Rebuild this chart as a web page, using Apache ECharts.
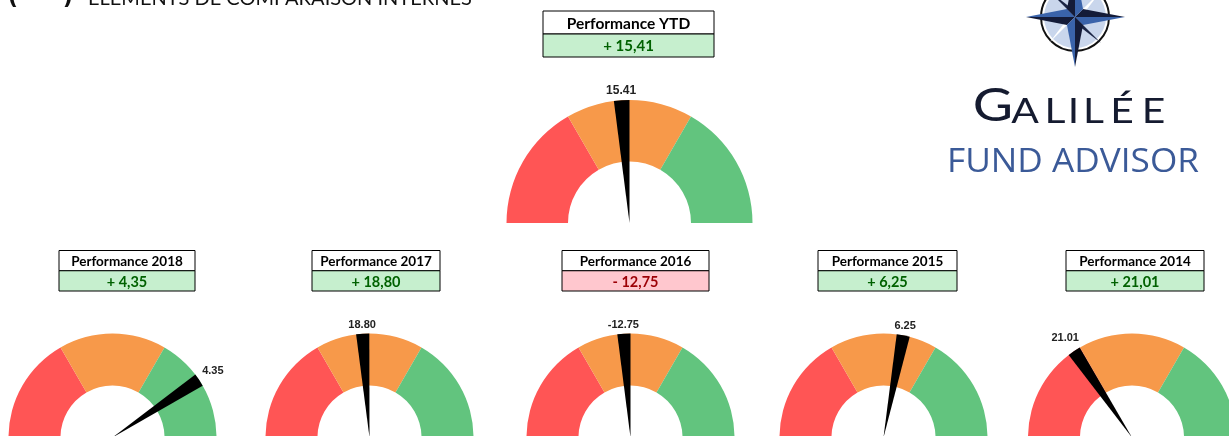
<!DOCTYPE html>
<html>
<head>
<meta charset="utf-8">
<script src="https://cdn.jsdelivr.net/npm/echarts@6/dist/echarts.min.js"></script>
<style>
  body { margin: 0; background: #fff; }
  #chart { width: 1229px; height: 436px; }
</style>
</head>
<body>
<div id="chart"></div>
<script>
// one gauge per period
const gaugeTitles = ['Performance YTD', 'Performance 2018', 'Performance 2017', 'Performance 2016', 'Performance 2015', 'Performance 2014']
const perfValues = [15.41, 4.35, 18.80, -12.75, 6.25, 21.01]
// red / orange / green zones, in dial degrees (half dial = 180)
const zoneValues = [60, 60, 60]
// needle position along the dial, counted from the left end
const needleStart = [82.7, 142.8, 82.6, 82.7, 97.3, 52.5]
const needleWidth = [7.3, 7.3, 7.3, 7.3, 7.3, 7.3]

const zoneColors = ['#FF5555', '#F7994A', '#62C47E']
const clear = 'rgba(0,0,0,0)'

// where each gauge and its little table sit
const layout = [
  {cx: 629.5, cy: 223, r: 123, bx: 543, by: 11, bw: 171, bh: 46, fs: 15.5, vs: 15, ls: 12},
  {cx: 112.5, cy: 437.5, r: 104, bx: 59, by: 250.5, bw: 136, bh: 40.5, fs: 13.5, vs: 14.5, ls: 11},
  {cx: 369.5, cy: 437.5, r: 104, bx: 312, by: 250.5, bw: 128, bh: 40.5, fs: 13.5, vs: 14.5, ls: 11},
  {cx: 630.5, cy: 437.5, r: 104, bx: 562, by: 250.5, bw: 147, bh: 40.5, fs: 13.5, vs: 14.5, ls: 11},
  {cx: 883.5, cy: 437.5, r: 104, bx: 818, by: 250.5, bw: 139, bh: 40.5, fs: 13.5, vs: 14.5, ls: 11},
  {cx: 1132, cy: 437.5, r: 104, bx: 1066, by: 250.5, bw: 138, bh: 40.5, fs: 13.5, vs: 14.5, ls: 11}
]

const fmtBox = v => (v >= 0 ? '+ ' : '- ') + Math.abs(v).toFixed(2).replace('.', ',')

const needleData = i => [
  {value: needleStart[i], itemStyle: {color: clear}},
  {value: needleWidth[i], itemStyle: {color: '#000'}},
  {value: 360 - needleStart[i] - needleWidth[i], itemStyle: {color: clear}}
]

const series = []
gaugeTitles.forEach((t, i) => {
  const g = layout[i]
  const base = {
    type: 'pie',
    center: [g.cx, g.cy],
    startAngle: 180,
    clockwise: true,
    silent: true,
    animation: false,
    label: {show: false},
    labelLine: {show: false},
    emphasis: {disabled: true}
  }
  series.push(Object.assign({}, base, {
    radius: [g.r * 0.5, g.r],
    data: [
      ...zoneValues.map((v, k) => ({value: v, itemStyle: {color: zoneColors[k]}})),
      {value: 180, itemStyle: {color: clear}}
    ]
  }))
  series.push(Object.assign({}, base, {
    radius: [0, g.r],
    data: needleData(i)
  }))
  // invisible thin ring on the rim, only used to carry the value label
  const mid = (180 - needleStart[i] - needleWidth[i] / 2) * Math.PI / 180
  series.push(Object.assign({}, base, {
    radius: [g.r - 2, g.r],
    data: needleData(i).map((d, k) => ({
      value: d.value,
      itemStyle: {color: clear},
      label: {show: k === 1}
    })),
    label: {
      show: false,
      position: 'inside',
      formatter: () => perfValues[i].toFixed(2),
      fontFamily: 'Liberation Sans',
      fontWeight: 'bold',
      fontSize: g.ls,
      color: '#222'
    },
    labelLayout: p => {
      const w = p.labelRect.width, h = p.labelRect.height
      const ext = Math.abs(Math.cos(mid)) * (w / 2 + 3) + Math.abs(Math.sin(mid)) * h / 2
      return {dx: Math.cos(mid) * ext, dy: -Math.sin(mid) * ext}
    }
  }))
})

// small tables above each gauge
const graphics = []
gaugeTitles.forEach((t, i) => {
  const g = layout[i]
  const half = g.bh / 2
  const pos = perfValues[i] >= 0
  graphics.push(
    {type: 'rect', shape: {x: g.bx, y: g.by, width: g.bw, height: half}, style: {fill: '#fff', stroke: '#000', lineWidth: 1}},
    {type: 'rect', shape: {x: g.bx, y: g.by + half, width: g.bw, height: half}, style: {fill: pos ? '#C6EFCE' : '#FFC7CE', stroke: '#000', lineWidth: 1}},
    {type: 'text', style: {text: t, x: g.bx + g.bw / 2, y: g.by + half / 2 + 1, textAlign: 'center', textVerticalAlign: 'middle',
      font: 'bold ' + g.fs + 'px Lato', fill: '#000'}},
    {type: 'text', style: {text: fmtBox(perfValues[i]), x: g.bx + g.bw / 2, y: g.by + half * 1.5 + 1, textAlign: 'center', textVerticalAlign: 'middle',
      font: 'bold ' + g.vs + 'px Lato', fill: pos ? '#006100' : '#9C0006'}}
  )
})

// page heading, cut by the top edge
graphics.push(
  {type: 'text', style: {text: '(  •  )', x: 8, y: 9, textVerticalAlign: 'bottom', font: 'bold 22px "DejaVu Sans"', fill: '#111'}},
  {type: 'text', style: {text: 'ÉLÉMENTS DE COMPARAISON INTERNES', x: 88, y: 9, textVerticalAlign: 'bottom', font: '20px Lato', fill: '#111'}}
)

// logo: compass rose + name
const cx = 1075, cy = 17
graphics.push(
  {type: 'circle', shape: {cx: cx, cy: cy, r: 34}, style: {fill: '#fff', stroke: '#111', lineWidth: 2}},
  {type: 'circle', shape: {cx: cx, cy: cy, r: 31}, style: {fill: '#C9D6EC'}},
  {type: 'polygon', shape: {points: [[cx, cy], [cx + 26, cy - 26], [cx + 6, cy]]}, style: {fill: '#fff'}},
  {type: 'polygon', shape: {points: [[cx, cy], [cx - 26, cy + 26], [cx - 6, cy]]}, style: {fill: '#fff'}},
  {type: 'polygon', shape: {points: [[cx, cy], [cx + 26, cy + 26], [cx, cy + 6]]}, style: {fill: '#1B2545'}},
  {type: 'polygon', shape: {points: [[cx, cy], [cx - 26, cy - 26], [cx, cy - 6]]}, style: {fill: '#1B2545'}},
  {type: 'polygon', shape: {points: [[cx, cy], [cx - 49, cy], [cx - 8, cy - 8]]}, style: {fill: '#3A63AA'}},
  {type: 'polygon', shape: {points: [[cx, cy], [cx - 49, cy], [cx - 8, cy + 8]]}, style: {fill: '#141B38'}},
  {type: 'polygon', shape: {points: [[cx, cy], [cx + 50, cy], [cx + 8, cy + 8]]}, style: {fill: '#3A63AA'}},
  {type: 'polygon', shape: {points: [[cx, cy], [cx + 50, cy], [cx + 8, cy - 8]]}, style: {fill: '#141B38'}},
  {type: 'polygon', shape: {points: [[cx, cy], [cx, cy + 50], [cx - 8, cy + 8]]}, style: {fill: '#3A63AA'}},
  {type: 'polygon', shape: {points: [[cx, cy], [cx, cy + 50], [cx + 8, cy + 8]]}, style: {fill: '#141B38'}},
  {type: 'polygon', shape: {points: [[cx, cy], [cx, cy - 50], [cx + 8, cy - 8]]}, style: {fill: '#3A63AA'}},
  {type: 'polygon', shape: {points: [[cx, cy], [cx, cy - 50], [cx - 8, cy - 8]]}, style: {fill: '#141B38'}}
)
// spaced-out small caps name
const logoLetters = [['G', 993, 46], ['A', 1025, 34], ['L', 1055, 34], ['I', 1073.5, 34], ['L', 1093.5, 34], ['É', 1122, 34], ['E', 1153.5, 34]]
logoLetters.forEach(l => graphics.push({type: 'text', x: l[1], y: 129, scaleX: 1.2, style: {text: l[0], x: 0, y: 0, textAlign: 'center', textVerticalAlign: 'bottom',
  font: l[2] + 'px Lato', fill: '#151B30'}}))
graphics.push({type: 'text', x: 1073, y: 163, scaleX: 1.1, style: {text: 'FUND ADVISOR', x: 0, y: 0, textAlign: 'center', textVerticalAlign: 'middle',
  font: '32px "Open Sans"', fill: '#3B5A98'}})

const chart = echarts.init(document.getElementById('chart'))
chart.setOption({
  backgroundColor: '#fff',
  animation: false,
  series: series,
  graphic: graphics
})
</script>
</body>
</html>
